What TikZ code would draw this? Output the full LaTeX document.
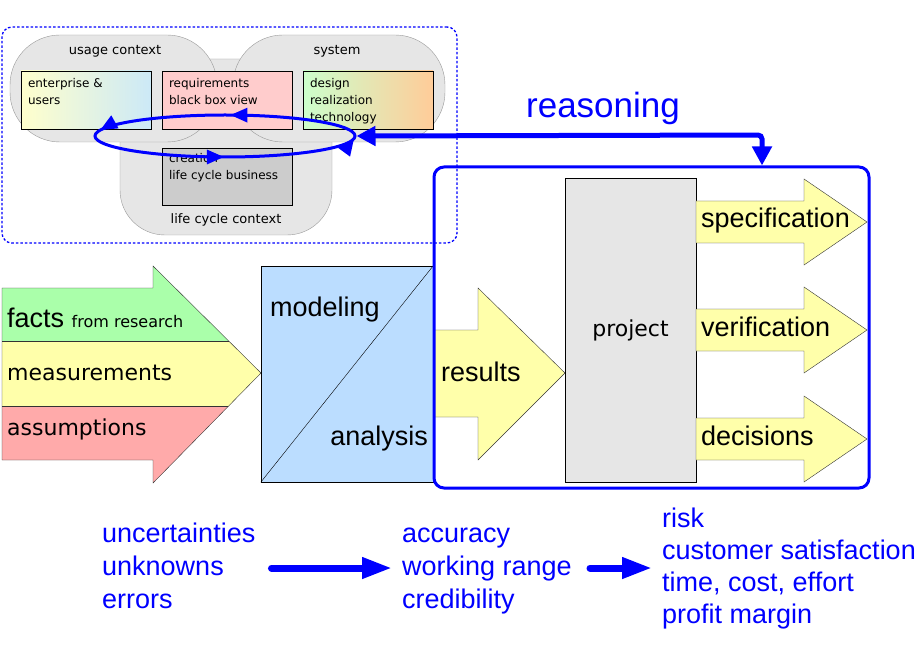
\documentclass[tikz,border=0pt]{standalone}
\usepackage{fontspec}
\setmainfont{Liberation Sans}
\newfontfamily\verd{DejaVu Sans}
\usepackage{xcolor}
\usepackage{tikz}
\usetikzlibrary{shapes.geometric, arrows.meta, positioning, decorations.markings}

\definecolor{pblue}{HTML}{0000FF}
\definecolor{blobgray}{HTML}{E6E6E6}
\definecolor{factgreen}{HTML}{AAFFAA}
\definecolor{measyellow}{HTML}{FFFFAA}
\definecolor{assumred}{HTML}{FFAAAA}
\definecolor{modelblue}{HTML}{BBDDFF}
\definecolor{reqpink}{HTML}{FFCCCC}
\definecolor{creagray}{HTML}{CCCCCC}
\definecolor{entyellow}{HTML}{FFFFCC}
\definecolor{entblue}{HTML}{CCE9F7}
\definecolor{desgreen}{HTML}{CCFFCC}
\definecolor{desorange}{HTML}{FFCC99}

\begin{document}
\begin{tikzpicture}[
    x=1pt, y=-1pt,
    blob/.style={rectangle, draw=black!40, fill=blobgray, rounded corners=50pt, inner sep=0pt},
    ctxbox/.style={rectangle, draw=black, minimum width=130pt, minimum height=58pt, inner sep=0pt},
    boxtext/.style={font=\verd\fontsize{12}{17}\selectfont, align=left, inner sep=0pt, anchor=base west},
    bloblabel/.style={font=\verd\fontsize{13}{16}\selectfont, inner sep=0pt, anchor=base},
    blockarrow/.style={draw=black!80, fill=#1},
    big/.style={font=\fontsize{27}{32}\selectfont, inner sep=0pt, anchor=base west},
    mid/.style={font=\verd\fontsize{22}{26}\selectfont, inner sep=0pt, anchor=base west},
    note/.style={font=\fontsize{27}{33}\selectfont, text=pblue, align=left, inner sep=0pt, anchor=base west},
    flow/.style={-{Triangle[length=30pt,width=20pt]}, line width=7pt, draw=pblue, line cap=round},
    loop/.style={ellipse, draw=pblue, line width=3pt, inner sep=0pt, minimum width=260pt, minimum height=42pt,
        postaction={decorate, decoration={markings,
            mark=at position 0.24 with {\arrow[pblue]{Triangle[length=17pt,width=14pt]}},
            mark=at position 0.485 with {\arrow[pblue]{Triangle[length=17pt,width=14pt]}},
            mark=at position 0.748 with {\arrow[pblue]{Triangle[length=17pt,width=14pt]}},
            mark=at position 0.995 with {\arrow[pblue]{Triangle[length=17pt,width=14pt]}}}}},
    reason/.style={{Triangle[length=19pt,width=19pt]}-{Triangle[length=19pt,width=19pt]}, line width=5pt, draw=pblue, rounded corners=4pt}
]
    \useasboundingbox (0,0) rectangle (920,660);

    % context of the system
    \node[blob, rounded corners=45pt, minimum width=212pt, minimum height=176pt] (lifecycle) at (226,147) {};
    \node[blob, minimum width=207pt, minimum height=107pt] (usage) at (113.5,88.5) {};
    \node[blob, minimum width=212pt, minimum height=107pt] (system) at (339,88.5) {};
    \node[bloblabel] (usagelabel) at (115,55) {usage context};
    \node[bloblabel] (systemlabel) at (337,55) {system};
    \node[bloblabel] (lifecyclelabel) at (226,224) {life cycle context};

    \node[ctxbox, left color=entyellow, right color=entblue] (enterprise) at (86,100) {};
    \node[ctxbox, fill=reqpink] (requirements) at (227,100) {};
    \node[ctxbox, left color=desgreen, right color=desorange] (design) at (368,100) {};
    \node[ctxbox, fill=creagray, minimum height=57pt] (creation) at (227,176.5) {};
    % base of a node with more lines is its last line
    \node[boxtext] at ([xshift=7pt,yshift=-34pt]enterprise.north west) {enterprise \&\\users};
    \node[boxtext] at ([xshift=7pt,yshift=-34pt]requirements.north west) {requirements\\black box view};
    \node[boxtext] at ([xshift=7pt,yshift=-51pt]design.north west) {design\\realization\\technology};
    \node[boxtext] at ([xshift=7pt,yshift=-32pt]creation.north west) {creation\\life cycle business};

    \node[rectangle, draw=pblue, line width=1.3pt, dash pattern=on 2.5pt off 2pt, rounded corners=10pt,
        minimum width=455pt, minimum height=216pt] (context) at (229.5,135) {};
    \node[loop] (loop) at (225,136) {};

    % inputs
    \begin{scope}
        \clip (2,288) -- (153,288) -- (153,266) -- (261,373) -- (153,483) -- (153,460) -- (2,460) -- cycle;
        \fill[factgreen] (0,260) rectangle (270,341);
        \fill[measyellow] (0,341) rectangle (270,406);
        \fill[assumred] (0,406) rectangle (270,490);
        \draw[black!80] (0,341) -- (270,341) (0,406) -- (270,406);
    \end{scope}
    \draw[black!80] (2,288) -- (153,288) -- (153,266) -- (261,373) -- (153,483) -- (153,460) -- (2,460) -- cycle;
    \node[big] (facts) at (7,327) {facts {\verd\fontsize{16}{18}\selectfont from research}};
    \node[mid] (measurements) at (7,380) {measurements};
    \node[mid] (assumptions) at (7,435) {assumptions};

    % model
    \node[rectangle, draw=black, fill=modelblue, minimum width=172pt, minimum height=216pt] (model) at (347,374) {};
    \draw (model.south west) -- (model.north east);
    \node[big] (modeling) at (270,316) {modeling};
    \node[big, anchor=base east] (analysis) at (428,445) {analysis};

    % project and outcome
    \draw[blockarrow=measyellow] (434,330) -- (478,330) -- (478,288) -- (565,373) -- (478,460) -- (478,417) -- (434,417) -- cycle;
    \node[big] (results) at (441,381) {results};
    \node[rectangle, draw=black, fill=blobgray, minimum width=131pt, minimum height=304pt,
        font=\verd\fontsize{22}{26}\selectfont] (project) at (630.5,330) {project};
    \foreach \y/\name in {222/specification, 330/verification, 439/decisions} {
        \draw[blockarrow=measyellow] (696,\y-21) -- (804,\y-21) -- (804,\y-43) -- (867,\y) -- (804,\y+43) -- (804,\y+21) -- (696,\y+21) -- cycle;
        \node[big] (\name) at (701,\y+6) {\name};
    }
    \node[rectangle, draw=pblue, line width=3pt, rounded corners=10pt, minimum width=435pt, minimum height=321pt] (outcome) at (651.5,327.5) {};

    % reasoning
    \node[font=\fontsize{35}{40}\selectfont, text=pblue, inner sep=0pt, anchor=base] (reasonlabel) at (603,118) {reasoning};
    \coordinate (bend) at (762,135);
    \draw[reason] (loop.east) -- (bend) -- (bend |- outcome.north);

    % qualities
    \node[note] (causes) at (102,608) {uncertainties\\unknowns\\errors};
    \node[note] (quality) at (402,608) {accuracy\\working range\\credibility};
    \node[note, font=\fontsize{27}{32}\selectfont] (impact) at (662,623) {risk\\customer satisfaction\\time, cost, effort\\profit margin};
    \coordinate (flowline) at (0,568);
    \draw[flow] ([xshift=16pt]causes.east |- flowline) -- ([xshift=-10pt]quality.west |- flowline);
    \draw[flow] ([xshift=18pt]quality.east |- flowline) -- ([xshift=-10pt]impact.west |- flowline);
\end{tikzpicture}
\end{document}
